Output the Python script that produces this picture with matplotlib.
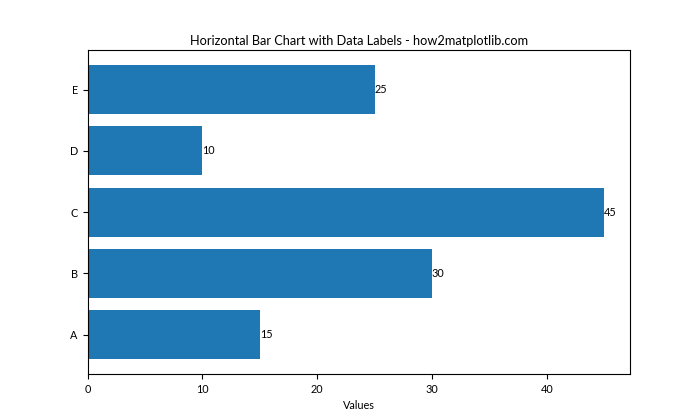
import matplotlib
matplotlib.use("Agg")
import matplotlib.pyplot as plt

plt.rcParams['font.family'] = ['Lato', 'DejaVu Sans']
plt.rcParams['font.size'] = 7.8

categories = ['A', 'B', 'C', 'D', 'E']
values = [15, 30, 45, 10, 25]

fig, ax = plt.subplots(figsize=(7, 4.2), dpi=100)
bars = ax.barh(categories, values, color='#1f77b4')
ax.bar_label(bars, labels=[str(v) for v in values], fontsize=7.8)
ax.set_title('Horizontal Bar Chart with Data Labels - how2matplotlib.com', fontsize=9.2, pad=4)
ax.set_xlabel('Values')
fig.savefig('out.png')
